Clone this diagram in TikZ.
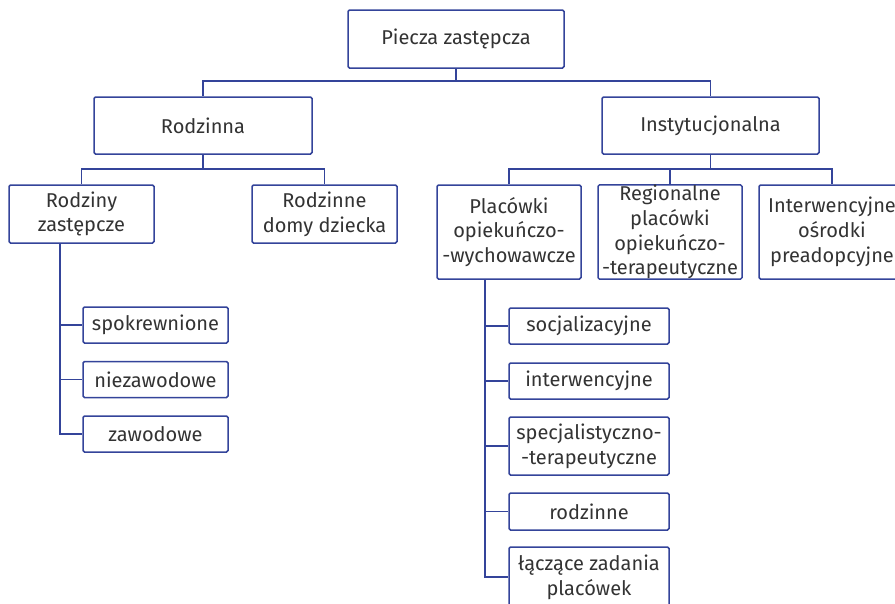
\documentclass[tikz,border=0pt]{standalone}
\usepackage{fontspec}
\setmainfont{Fira Sans}
\definecolor{bordc}{HTML}{34449A}
\definecolor{txtc}{HTML}{333333}
\begin{document}
\begin{tikzpicture}[x=1pt,y=-1pt,
  box/.style={draw=bordc, line width=1.5pt, rounded corners=1.5pt, fill=white,
    text=txtc, align=center, inner sep=0pt,
    font=\fontsize{20}{24.8}\selectfont},
  conn/.style={draw=bordc, line width=1.5pt}]
\useasboundingbox (0,0) rectangle (895,603);
\clip (0,0) rectangle (895,603);
\fill[white] (0,0) rectangle (895,603);
% level 0
\node[box, minimum width=216pt, minimum height=58pt] (root) at (456,39) {Piecza zastępcza};
% level 1
\node[box, minimum width=218pt, minimum height=57pt] (rodz) at (203,125.5) {Rodzinna};
\node[box, minimum width=217pt, minimum height=57pt] (inst) at (710.5,125.5) {Instytucjonalna};
% level 2 left
\node[box, minimum width=145pt, minimum height=58pt] (rz) at (81.5,214) {Rodziny\\zastępcze};
\node[box, minimum width=145pt, minimum height=58pt] (rdd) at (324.5,214) {Rodzinne\\domy dziecka};
% level 2 right
\node[box, minimum width=144pt, minimum height=94pt] (pow) at (509,232) {Placówki\\opiekuńczo-\\-wychowawcze};
\node[box, minimum width=144pt, minimum height=94pt] (rpot) at (670,232) {Regionalne\\placówki\\opiekuńczo-\\-terapeutyczne};
\node[box, minimum width=146pt, minimum height=94pt] (iop) at (832,232) {Interwencyjne\\ośrodki\\preadopcyjne};
% level 3 left
\node[box, minimum width=145pt, minimum height=36pt] (sp) at (155.5,325) {spokrewnione};
\node[box, minimum width=145pt, minimum height=36pt] (nz) at (155.5,379.5) {niezawodowe};
\node[box, minimum width=145pt, minimum height=36pt] (zw) at (155.5,434) {zawodowe};
% level 3 right
\node[box, minimum width=160pt, minimum height=36pt] (soc) at (589,326) {socjalizacyjne};
\node[box, minimum width=160pt, minimum height=36pt] (int) at (589,381) {interwencyjne};
\node[box, minimum width=160pt, minimum height=58pt] (spt) at (589,446) {specjalistyczno-\\-terapeutyczne};
\node[box, minimum width=160pt, minimum height=37pt] (rod) at (589,511.5) {rodzinne};
\node[box, minimum width=160pt, minimum height=60pt] (lzp) at (589,577) {łączące zadania\\placówek};
% connectors
\draw[conn] (root.south) -- (root.south |- 0,81) -| (rodz.north);
\draw[conn] (root.south |- 0,81) -| (inst.north);
\draw[conn] (rodz.south) -- (rodz.south |- 0,169) -| (rz.north);
\draw[conn] (rodz.south |- 0,169) -| (rdd.north);
\draw[conn] (inst.south) -- (inst.south |- 0,169) -| (pow.north);
\draw[conn] (inst.south |- 0,169) -| (iop.north);
\draw[conn] (rpot.north |- 0,169) -- (rpot.north);
\draw[conn] (rz.south -| 60,0) |- (zw.west);
\draw[conn] (sp.west -| 60,0) -- (sp.west);
\draw[conn] (nz.west -| 60,0) -- (nz.west);
\draw[conn] (pow.south -| 485,0) |- (lzp.west);
\draw[conn] (soc.west -| 485,0) -- (soc.west);
\draw[conn] (int.west -| 485,0) -- (int.west);
\draw[conn] (spt.west -| 485,0) -- (spt.west);
\draw[conn] (rod.west -| 485,0) -- (rod.west);
\end{tikzpicture}
\end{document}
